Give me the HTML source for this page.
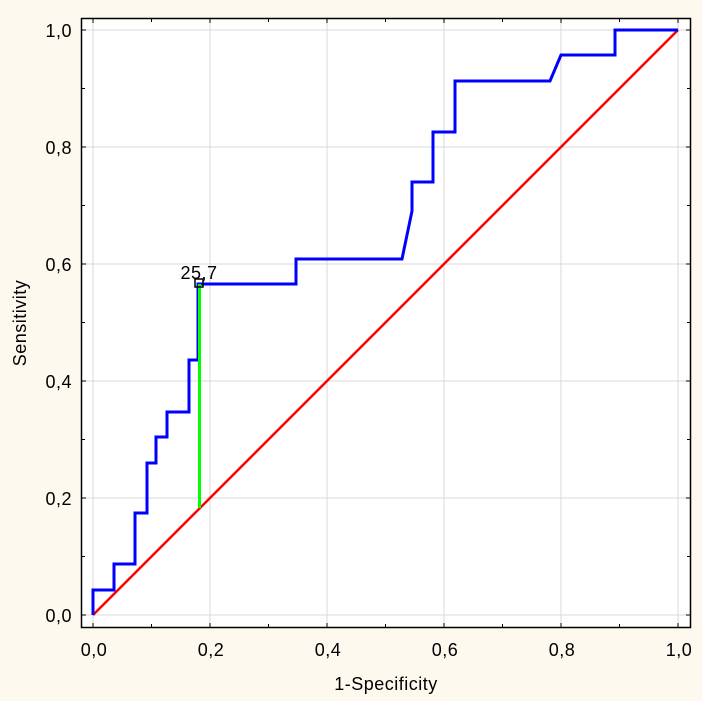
<!DOCTYPE html>
<html><head><style>body{margin:0;background:#fdf9ef}svg{display:block}</style></head><body>
<svg width="702" height="701" xmlns="http://www.w3.org/2000/svg" font-family="Liberation Sans, sans-serif" font-size="18" letter-spacing="0.5">
<rect width="702" height="701" fill="#fdf9ef"/>
<rect x="81.5" y="18.5" width="609" height="609" fill="#fff" stroke="#000" stroke-width="1.5"/>
<g stroke="#d8d8d8" stroke-width="1">
<line x1="93" y1="19" x2="93" y2="627"/><line x1="210" y1="19" x2="210" y2="627"/><line x1="327" y1="19" x2="327" y2="627"/><line x1="444" y1="19" x2="444" y2="627"/><line x1="561" y1="19" x2="561" y2="627"/><line x1="678" y1="19" x2="678" y2="627"/>
<line x1="82" y1="30" x2="690" y2="30"/><line x1="82" y1="147" x2="690" y2="147"/><line x1="82" y1="264" x2="690" y2="264"/><line x1="82" y1="381" x2="690" y2="381"/><line x1="82" y1="498" x2="690" y2="498"/><line x1="82" y1="615" x2="690" y2="615"/>
</g>
<g stroke="#000" stroke-width="1">
<path d="M93 19v4M151.5 19v3M210 19v4M268.5 19v3M327 19v4M385.5 19v3M444 19v4M502.5 19v3M561 19v4M619.5 19v3M678 19v4"/>
<path d="M93 627v-4M151.5 627v-3M210 627v-4M268.5 627v-3M327 627v-4M385.5 627v-3M444 627v-4M502.5 627v-3M561 627v-4M619.5 627v-3M678 627v-4"/>
<path d="M82 30h4M82 88.5h3M82 147h4M82 205.5h3M82 264h4M82 322.5h3M82 381h4M82 439.5h3M82 498h4M82 556.5h3M82 615h4"/>
<path d="M690 30h-4M690 88.5h-3M690 147h-4M690 205.5h-3M690 264h-4M690 322.5h-3M690 381h-4M690 439.5h-3M690 498h-4M690 556.5h-3M690 615h-4"/>
</g>
<line x1="93" y1="615" x2="678" y2="30" stroke="#f00" stroke-width="2.5"/>
<polyline fill="none" stroke="#00f" stroke-width="3" points="93,615 93,590 114,590 114,564 135,564 135,513 147,513 147,463 156,463 156,437 167,437 167,412 189,412 189,360 198,360 198,284 296,284 296,259 402,259 412,211 412,182 433,182 433,132 455,132 455,81 550,81 561,55 615,55 615,30 678,30"/>
<line x1="199.5" y1="284" x2="199.5" y2="508" stroke="#0f0" stroke-width="3"/>
<rect x="195" y="279" width="8" height="8" fill="none" stroke="#000" stroke-width="1.5"/>
<text x="199" y="279" text-anchor="middle">25,7</text>
<g text-anchor="end"><text x="72" y="37">1,0</text><text x="72" y="154">0,8</text><text x="72" y="271">0,6</text><text x="72" y="388">0,4</text><text x="72" y="505">0,2</text><text x="72" y="622">0,0</text></g>
<g text-anchor="middle"><text x="94" y="656">0,0</text><text x="211" y="656">0,2</text><text x="328" y="656">0,4</text><text x="445" y="656">0,6</text><text x="562" y="656">0,8</text><text x="679" y="656">1,0</text>
<text x="386" y="690">1-Specificity</text>
<text transform="translate(26,323) rotate(-90)">Sensitivity</text></g>
</svg>
</body></html>
